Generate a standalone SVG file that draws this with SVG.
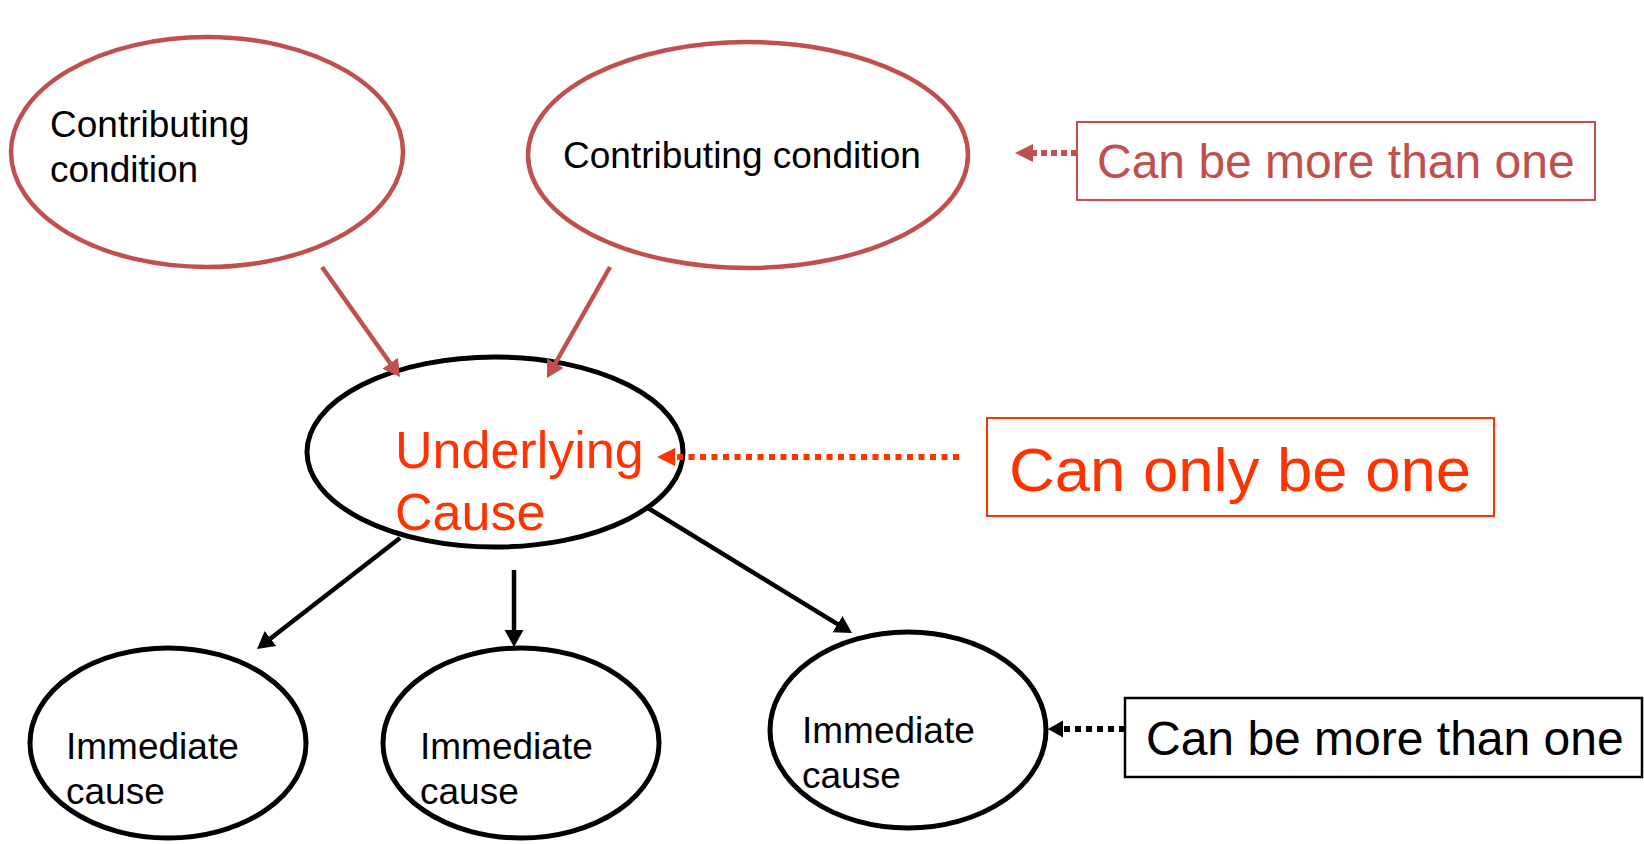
<svg xmlns="http://www.w3.org/2000/svg" width="1644" height="844" viewBox="0 0 1644 844">
<style>
  text { font-family: "Liberation Sans", Arial, sans-serif; }
  .red { fill: none; stroke: #C0504D; stroke-width: 4.5; }
  .blk { fill: none; stroke: #000; stroke-width: 5; }
  .t-blk { fill: #000; }
  .t-red { fill: #C0504D; }
  .t-org { fill: #FF3300; }
  .c-red { stroke: #C0504D; stroke-width: 4.5; fill: none; }
  .c-blk { stroke: #000; stroke-width: 4.5; fill: none; }
</style>
<defs>
  <marker id="ah-red" markerUnits="userSpaceOnUse" markerWidth="20" markerHeight="20" refX="2" refY="9.5" orient="auto">
    <path d="M0,0 L17,9.5 L0,19 z" fill="#C0504D"/>
  </marker>
  <marker id="ah-blk" markerUnits="userSpaceOnUse" markerWidth="20" markerHeight="20" refX="2" refY="9.5" orient="auto">
    <path d="M0,0 L17,9.5 L0,19 z" fill="#000"/>
  </marker>
  <marker id="ah-red-s" markerUnits="userSpaceOnUse" markerWidth="20" markerHeight="20" refX="1" refY="9" orient="auto">
    <path d="M0,0 L18,9 L0,18 z" fill="#C0504D"/>
  </marker>
  <marker id="ah-org-s" markerUnits="userSpaceOnUse" markerWidth="20" markerHeight="20" refX="1" refY="9" orient="auto">
    <path d="M0,0 L18,9 L0,18 z" fill="#FF3300"/>
  </marker>
  <marker id="ah-blk-s" markerUnits="userSpaceOnUse" markerWidth="20" markerHeight="20" refX="1" refY="8.5" orient="auto">
    <path d="M0,0 L15,8.5 L0,17 z" fill="#000"/>
  </marker>
</defs>

<g id="cc1">
  <ellipse class="red" cx="207" cy="152" rx="196" ry="115"/>
  <text class="t-blk" x="50" y="137" font-size="37">Contributing</text>
  <text class="t-blk" x="50" y="182" font-size="37">condition</text>
</g>

<g id="cc2">
  <ellipse class="red" cx="748" cy="155" rx="220" ry="113"/>
  <text class="t-blk" x="563" y="168" font-size="37">Contributing condition</text>
</g>

<g id="note-more-red">
  <rect x="1077" y="122" width="518" height="78" fill="none" stroke="#C0504D" stroke-width="2"/>
  <text class="t-red" x="1097" y="178" font-size="48">Can be more than one</text>
</g>

<g id="underlying">
  <ellipse class="blk" cx="495" cy="452" rx="188" ry="95"/>
  <text class="t-org" x="395" y="468" font-size="52">Underlying</text>
  <text class="t-org" x="395" y="530" font-size="52">Cause</text>
</g>

<g id="note-one">
  <rect x="987" y="418" width="507" height="98" fill="none" stroke="#FF3300" stroke-width="2"/>
  <text class="t-org" x="1009" y="491" font-size="62" textLength="462" lengthAdjust="spacingAndGlyphs">Can only be one</text>
</g>

<g id="ic1">
  <ellipse class="blk" cx="168" cy="743" rx="138" ry="95"/>
  <text class="t-blk" x="66" y="759" font-size="37">Immediate</text>
  <text class="t-blk" x="66" y="804" font-size="37">cause</text>
</g>

<g id="ic2">
  <ellipse class="blk" cx="521" cy="743" rx="138" ry="95"/>
  <text class="t-blk" x="420" y="759" font-size="37">Immediate</text>
  <text class="t-blk" x="420" y="804" font-size="37">cause</text>
</g>

<g id="ic3">
  <ellipse class="blk" cx="908" cy="730" rx="138" ry="98"/>
  <text class="t-blk" x="802" y="743" font-size="37">Immediate</text>
  <text class="t-blk" x="802" y="788" font-size="37">cause</text>
</g>

<g id="note-more-blk">
  <rect x="1125" y="698" width="517" height="79" fill="none" stroke="#000" stroke-width="2.5"/>
  <text class="t-blk" x="1146" y="755" font-size="48">Can be more than one</text>
</g>

<g id="connectors">
  <line class="c-red" x1="322" y1="267" x2="391.3" y2="364.8" marker-end="url(#ah-red)"/>
  <line class="c-red" x1="610" y1="267" x2="554.4" y2="365" marker-end="url(#ah-red)"/>
  <line class="c-blk" x1="400" y1="538" x2="268.9" y2="639.8" marker-end="url(#ah-blk)"/>
  <line class="c-blk" x1="514" y1="570" x2="514" y2="632" marker-end="url(#ah-blk)"/>
  <line class="c-blk" x1="648" y1="508" x2="839.2" y2="625.2" marker-end="url(#ah-blk)"/>
  <line x1="1077" y1="153" x2="1032" y2="153" stroke="#C0504D" stroke-width="6" stroke-dasharray="6 4" marker-end="url(#ah-red-s)"/>
  <line x1="959" y1="457" x2="674" y2="457" stroke="#FF3300" stroke-width="6" stroke-dasharray="6 5.5" marker-end="url(#ah-org-s)"/>
  <line x1="1125" y1="729" x2="1062" y2="729" stroke="#000" stroke-width="6" stroke-dasharray="6 5" marker-end="url(#ah-blk-s)"/>
</g>
</svg>
